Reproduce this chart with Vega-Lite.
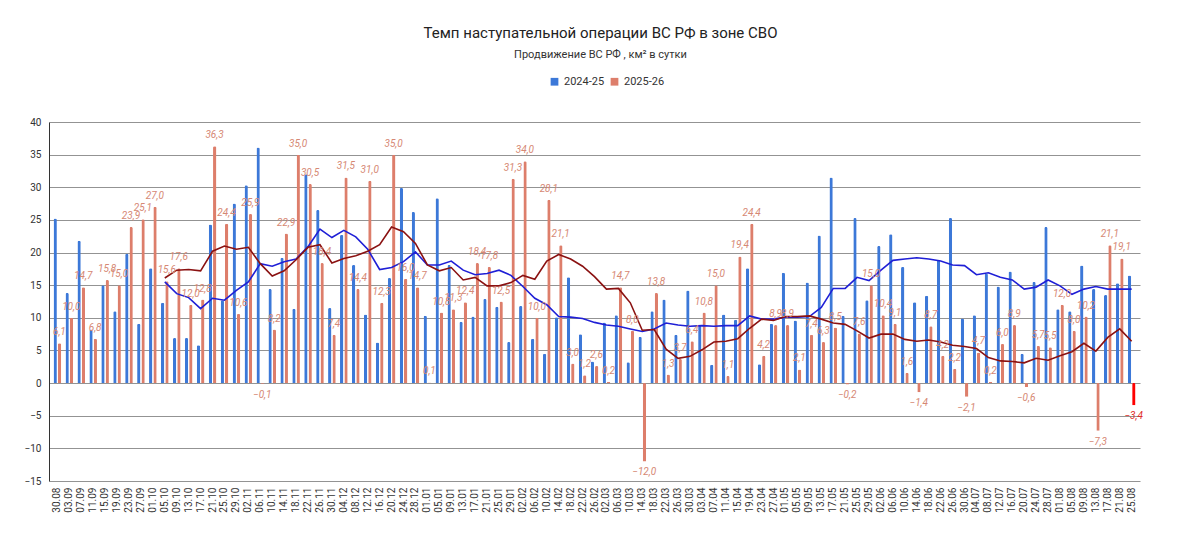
{
  "$schema": "https://vega.github.io/schema/vega-lite/v6.json",
  "autosize": {"type": "none"},
  "padding": {"left": 49, "top": 122, "right": 60, "bottom": 57},
  "width": 1091,
  "height": 359,
  "background": "white",
  "title": {
    "text": "Темп наступательной операции ВС РФ в зоне СВО",
    "subtitle": "Продвижение ВС РФ , км² в сутки",
    "anchor": "middle",
    "dx": 6,
    "offset": 16,
    "font": "Roboto",
    "fontSize": 15,
    "fontWeight": "normal",
    "color": "#222222",
    "subtitleFont": "Roboto",
    "subtitleFontSize": 11,
    "subtitleColor": "#333333",
    "subtitlePadding": 8
  },
  "config": {
    "view": {"stroke": null},
    "locale": {"number": {"decimal": ",", "thousands": " ", "grouping": [3], "currency": ["", ""]}},
    "axis": {"labelFont": "Roboto", "labelColor": "#333333", "titleFont": "Roboto"},
    "legend": {"labelFont": "Roboto"}
  },
  "data": {
    "values": [
      {"date": "30.08", "2024-25": 25.2, "2025-26": 6.1},
      {"date": "03.09", "2024-25": 13.8, "2025-26": 10.0},
      {"date": "07.09", "2024-25": 21.8, "2025-26": 14.7},
      {"date": "11.09", "2024-25": 8.2, "2025-26": 6.8},
      {"date": "15.09", "2024-25": 15.0, "2025-26": 15.8},
      {"date": "19.09", "2024-25": 11.0, "2025-26": 15.0},
      {"date": "23.09", "2024-25": 19.8, "2025-26": 23.9},
      {"date": "27.09", "2024-25": 9.1, "2025-26": 25.1},
      {"date": "01.10", "2024-25": 17.6, "2025-26": 27.0},
      {"date": "05.10", "2024-25": 12.3, "2025-26": 15.6, "ma24": 15.5, "ma25": 16.1},
      {"date": "09.10", "2024-25": 6.9, "2025-26": 17.6, "ma24": 13.7, "ma25": 17.3},
      {"date": "13.10", "2024-25": 6.9, "2025-26": 12.0, "ma24": 13.1, "ma25": 17.4},
      {"date": "17.10", "2024-25": 5.8, "2025-26": 12.8, "ma24": 11.4, "ma25": 17.2},
      {"date": "21.10", "2024-25": 24.3, "2025-26": 36.3, "ma24": 13.0, "ma25": 20.2},
      {"date": "25.10", "2024-25": 12.7, "2025-26": 24.4, "ma24": 12.7, "ma25": 21.0},
      {"date": "29.10", "2024-25": 27.5, "2025-26": 10.6, "ma24": 14.2, "ma25": 20.5},
      {"date": "02.11", "2024-25": 30.3, "2025-26": 25.9, "ma24": 15.5, "ma25": 20.8},
      {"date": "06.11", "2024-25": 36.1, "2025-26": -0.1, "ma24": 18.3, "ma25": 18.3},
      {"date": "10.11", "2024-25": 14.4, "2025-26": 8.2, "ma24": 17.9, "ma25": 16.4},
      {"date": "14.11", "2024-25": 19.2, "2025-26": 22.9, "ma24": 18.6, "ma25": 17.2},
      {"date": "18.11", "2024-25": 11.4, "2025-26": 35.0, "ma24": 19.0, "ma25": 18.9},
      {"date": "22.11", "2024-25": 32.0, "2025-26": 30.5, "ma24": 20.9, "ma25": 20.8},
      {"date": "26.11", "2024-25": 26.5, "2025-26": 18.4, "ma24": 23.6, "ma25": 21.2},
      {"date": "30.11", "2024-25": 11.5, "2025-26": 7.4, "ma24": 22.3, "ma25": 18.4},
      {"date": "04.12", "2024-25": 22.7, "2025-26": 31.5, "ma24": 23.4, "ma25": 19.1},
      {"date": "08.12", "2024-25": 18.1, "2025-26": 14.4, "ma24": 22.4, "ma25": 19.5},
      {"date": "12.12", "2024-25": 10.5, "2025-26": 31.0, "ma24": 20.5, "ma25": 20.2},
      {"date": "16.12", "2024-25": 6.2, "2025-26": 12.3, "ma24": 17.4, "ma25": 21.2},
      {"date": "20.12", "2024-25": 16.1, "2025-26": 35.0, "ma24": 17.7, "ma25": 23.9},
      {"date": "24.12", "2024-25": 29.9, "2025-26": 16.0, "ma24": 18.6, "ma25": 23.2},
      {"date": "28.12", "2024-25": 26.2, "2025-26": 14.7, "ma24": 20.1, "ma25": 21.4},
      {"date": "01.01", "2024-25": 10.3, "2025-26": 0.1, "ma24": 18.1, "ma25": 18.1},
      {"date": "05.01", "2024-25": 28.3, "2025-26": 10.8, "ma24": 18.1, "ma25": 17.2},
      {"date": "09.01", "2024-25": 18.1, "2025-26": 11.3, "ma24": 18.7, "ma25": 17.7},
      {"date": "13.01", "2024-25": 9.4, "2025-26": 12.4, "ma24": 17.3, "ma25": 15.8},
      {"date": "17.01", "2024-25": 10.2, "2025-26": 18.4, "ma24": 16.6, "ma25": 16.2},
      {"date": "21.01", "2024-25": 12.9, "2025-26": 17.8, "ma24": 16.8, "ma25": 14.9},
      {"date": "25.01", "2024-25": 11.7, "2025-26": 12.5, "ma24": 17.3, "ma25": 14.9},
      {"date": "29.01", "2024-25": 6.3, "2025-26": 31.3, "ma24": 16.5, "ma25": 15.4},
      {"date": "02.02", "2024-25": 11.8, "2025-26": 34.0, "ma24": 14.8, "ma25": 16.5},
      {"date": "06.02", "2024-25": 6.8, "2025-26": 10.0, "ma24": 13.0, "ma25": 15.9},
      {"date": "10.02", "2024-25": 4.5, "2025-26": 28.1, "ma24": 12.0, "ma25": 18.7},
      {"date": "14.02", "2024-25": 10.1, "2025-26": 21.1, "ma24": 10.2, "ma25": 19.7},
      {"date": "18.02", "2024-25": 16.2, "2025-26": 3.0, "ma24": 10.1, "ma25": 19.0},
      {"date": "22.02", "2024-25": 7.5, "2025-26": 1.2, "ma24": 9.9, "ma25": 17.9},
      {"date": "26.02", "2024-25": 3.3, "2025-26": 2.6, "ma24": 9.3, "ma25": 16.3},
      {"date": "02.03", "2024-25": 9.3, "2025-26": 0.2, "ma24": 8.9, "ma25": 14.4},
      {"date": "06.03", "2024-25": 10.4, "2025-26": 14.7, "ma24": 8.7, "ma25": 14.5},
      {"date": "10.03", "2024-25": 3.2, "2025-26": 8.0, "ma24": 8.3, "ma25": 12.3},
      {"date": "14.03", "2024-25": 7.1, "2025-26": -12.0, "ma24": 7.9, "ma25": 8.1},
      {"date": "18.03", "2024-25": 11.0, "2025-26": 13.8, "ma24": 8.3, "ma25": 8.2},
      {"date": "22.03", "2024-25": 12.8, "2025-26": 1.3, "ma24": 9.2, "ma25": 5.2},
      {"date": "26.03", "2024-25": 7.4, "2025-26": 3.7, "ma24": 8.9, "ma25": 3.8},
      {"date": "30.03", "2024-25": 14.2, "2025-26": 6.4, "ma24": 8.7, "ma25": 4.1},
      {"date": "03.04", "2024-25": 8.8, "2025-26": 10.8, "ma24": 8.8, "ma25": 5.1},
      {"date": "07.04", "2024-25": 2.8, "2025-26": 15.0, "ma24": 8.7, "ma25": 6.3},
      {"date": "11.04", "2024-25": 10.5, "2025-26": 1.1, "ma24": 8.8, "ma25": 6.4},
      {"date": "15.04", "2024-25": 9.7, "2025-26": 19.4, "ma24": 8.8, "ma25": 6.8},
      {"date": "19.04", "2024-25": 17.6, "2025-26": 24.4, "ma24": 10.3, "ma25": 8.4},
      {"date": "23.04", "2024-25": 2.9, "2025-26": 4.2, "ma24": 9.8, "ma25": 9.8},
      {"date": "27.04", "2024-25": 9.1, "2025-26": 8.9, "ma24": 9.8, "ma25": 9.6},
      {"date": "01.05", "2024-25": 16.9, "2025-26": 8.9, "ma24": 10.1, "ma25": 10.2},
      {"date": "05.05", "2024-25": 9.6, "2025-26": 2.1, "ma24": 10.1, "ma25": 10.2},
      {"date": "09.05", "2024-25": 15.4, "2025-26": 7.4, "ma24": 10.2, "ma25": 10.3},
      {"date": "13.05", "2024-25": 22.6, "2025-26": 6.3, "ma24": 11.6, "ma25": 9.8},
      {"date": "17.05", "2024-25": 31.5, "2025-26": 8.5, "ma24": 14.5, "ma25": 9.2},
      {"date": "21.05", "2024-25": 10.3, "2025-26": -0.2, "ma24": 14.5, "ma25": 9.0},
      {"date": "25.05", "2024-25": 25.3, "2025-26": 7.6, "ma24": 16.2, "ma25": 8.0},
      {"date": "29.05", "2024-25": 12.7, "2025-26": 15.0, "ma24": 15.7, "ma25": 6.9},
      {"date": "02.06", "2024-25": 21.0, "2025-26": 10.4, "ma24": 17.3, "ma25": 7.5},
      {"date": "06.06", "2024-25": 22.8, "2025-26": 9.1, "ma24": 18.8, "ma25": 7.5},
      {"date": "10.06", "2024-25": 17.8, "2025-26": 1.6, "ma24": 19.0, "ma25": 6.7},
      {"date": "14.06", "2024-25": 12.4, "2025-26": -1.4, "ma24": 19.2, "ma25": 6.4},
      {"date": "18.06", "2024-25": 13.4, "2025-26": 8.7, "ma24": 19.0, "ma25": 6.6},
      {"date": "22.06", "2024-25": 18.9, "2025-26": 4.2, "ma24": 18.7, "ma25": 6.3},
      {"date": "26.06", "2024-25": 25.3, "2025-26": 2.2, "ma24": 18.1, "ma25": 5.8},
      {"date": "30.06", "2024-25": 9.9, "2025-26": -2.1, "ma24": 18.0, "ma25": 5.6},
      {"date": "04.07", "2024-25": 10.4, "2025-26": 4.7, "ma24": 16.6, "ma25": 5.3},
      {"date": "08.07", "2024-25": 16.8, "2025-26": 0.2, "ma24": 16.9, "ma25": 3.9},
      {"date": "12.07", "2024-25": 14.8, "2025-26": 6.0, "ma24": 16.2, "ma25": 3.4},
      {"date": "16.07", "2024-25": 17.1, "2025-26": 8.9, "ma24": 15.8, "ma25": 3.3},
      {"date": "20.07", "2024-25": 4.5, "2025-26": -0.6, "ma24": 14.4, "ma25": 3.1},
      {"date": "24.07", "2024-25": 15.5, "2025-26": 5.7, "ma24": 14.7, "ma25": 3.8},
      {"date": "28.07", "2024-25": 23.9, "2025-26": 5.5, "ma24": 15.8, "ma25": 3.5},
      {"date": "01.08", "2024-25": 11.3, "2025-26": 12.0, "ma24": 14.9, "ma25": 4.2},
      {"date": "05.08", "2024-25": 11.0, "2025-26": 8.0, "ma24": 13.6, "ma25": 4.8},
      {"date": "09.08", "2024-25": 18.0, "2025-26": 10.2, "ma24": 14.4, "ma25": 6.1},
      {"date": "13.08", "2024-25": 14.4, "2025-26": -7.3, "ma24": 14.8, "ma25": 4.9},
      {"date": "17.08", "2024-25": 13.5, "2025-26": 21.1, "ma24": 14.4, "ma25": 7.0},
      {"date": "21.08", "2024-25": 15.3, "2025-26": 19.1, "ma24": 14.4, "ma25": 8.3},
      {"date": "25.08", "2024-25": 16.5, "2025-26": -3.4, "ma24": 14.4, "ma25": 6.4}
    ]
  },
  "encoding": {
    "x": {
      "field": "date",
      "type": "nominal",
      "sort": null,
      "scale": {"paddingInner": 0, "paddingOuter": 0.2},
      "axis": {
        "title": null,
        "labelAngle": 270,
        "labelFontSize": 10,
        "labelPadding": 6,
        "ticks": false,
        "domain": false,
        "grid": false
      }
    }
  },
  "layer": [
    {
      "transform": [{"fold": ["2024-25", "2025-26"], "as": ["season", "value"]}],
      "mark": {"type": "bar", "cornerRadiusEnd": 1.5},
      "encoding": {
        "xOffset": {
          "field": "season",
          "type": "nominal",
          "scale": {"paddingInner": 0.23, "paddingOuter": 0.5}
        },
        "y": {
          "field": "value",
          "type": "quantitative",
          "scale": {"domain": [-15, 40], "nice": false},
          "axis": {
            "title": null,
            "values": [-15, -10, -5, 0, 5, 10, 15, 20, 25, 30, 35, 40],
            "tickCount": 20,
            "labelOverlap": false,
            "labelFontSize": 10,
            "labelPadding": 8,
            "ticks": false,
            "domain": true,
            "domainColor": "#333333",
            "gridColor": "#939393",
            "gridWidth": 1
          }
        },
        "color": {
          "condition": {"test": "datum.date === '25.08' && datum.season === '2025-26'", "value": "#ff0000"},
          "field": "season",
          "type": "nominal",
          "scale": {"domain": ["2024-25", "2025-26"], "range": ["#3c78d8", "#dd7e6b"]},
          "legend": {
            "title": null,
            "orient": "none",
            "direction": "horizontal",
            "legendX": 500,
            "legendY": -46,
            "symbolType": "square",
            "symbolSize": 60,
            "symbolStrokeWidth": 0,
            "labelFontSize": 11,
            "labelColor": "#333333",
            "labelOffset": 4,
            "columnPadding": 4
          }
        }
      }
    },
    {
      "mark": {"type": "line", "color": "#1f1fd6", "strokeWidth": 1.6},
      "encoding": {"y": {"field": "ma24", "type": "quantitative"}}
    },
    {
      "mark": {"type": "line", "color": "#8a1111", "strokeWidth": 1.6},
      "encoding": {"y": {"field": "ma25", "type": "quantitative"}}
    },
    {
      "transform": [{"filter": "datum['2025-26'] >= 0"}],
      "mark": {"type": "text", "font": "Roboto", "fontSize": 10, "fontStyle": "italic", "baseline": "bottom", "dx": 2, "dy": -6, "color": "#d68874"},
      "encoding": {
        "y": {"field": "2025-26", "type": "quantitative"},
        "text": {"field": "2025-26", "type": "quantitative", "format": ".1f"}
      }
    },
    {
      "transform": [{"filter": "datum['2025-26'] < 0"}],
      "mark": {"type": "text", "font": "Roboto", "fontSize": 10, "fontStyle": "italic", "baseline": "top", "dx": 2, "dy": 6},
      "encoding": {
        "y": {"field": "2025-26", "type": "quantitative"},
        "text": {"field": "2025-26", "type": "quantitative", "format": ".1f"},
        "color": {
          "condition": {"test": "datum.date === '25.08'", "value": "#e0302a"},
          "value": "#d68874"
        }
      }
    }
  ]
}
